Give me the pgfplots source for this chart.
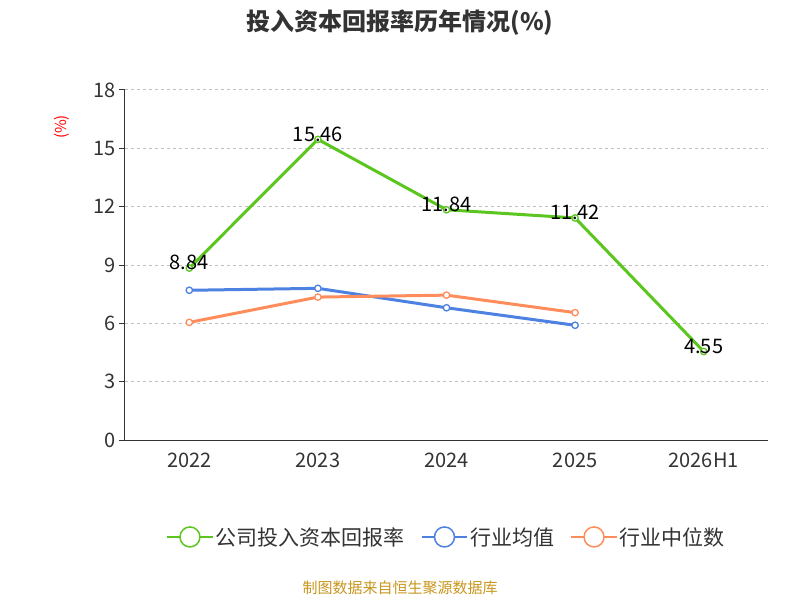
\documentclass[border=0pt]{standalone}
\usepackage{pgfplots}
\pgfplotsset{compat=1.18}
\usepackage{fontspec}
\setmainfont{Noto Sans CJK SC}
\definecolor{cg}{HTML}{5BC61E}
\definecolor{cb}{HTML}{4D82E2}
\definecolor{co}{HTML}{FF8D5C}
\definecolor{tx}{HTML}{333333}
\begin{document}
\begin{tikzpicture}[x=1pt,y=1pt]
\useasboundingbox (-125,-160) rectangle (675,440);
\begin{axis}[at={(0,0)},anchor=south west,scale only axis,width=643pt,height=350pt,
 xmin=-0.5,xmax=4.5,ymin=0,ymax=18,ytick={0,3,...,18},
 xtick={0,1,2,3,4},xticklabels={2022,2023,2024,2025,2026H1},
 extra x ticks={-0.5,0.5,1.5,2.5,3.5,4.5},extra x tick labels={},
 extra x tick style={major tick length=7pt,tick style={draw=tx,line width=1pt}},
 x tick style={draw=none},
 axis x line*=bottom, axis y line*=left,
 axis line style={draw=tx,-,line width=1pt},
 y tick style={draw=tx,line width=1pt},
 major tick length=6pt, tick align=outside,
 ymajorgrids, grid style={dashed,gray!50,line width=1pt},
 tick label style={font=\fontsize{20}{22}\selectfont,text=tx},
 xticklabel style={yshift=-3pt},
 /pgf/number format/assume math mode=true,
 legend style={at={(0.5,-0.277)},anchor=center,draw=none,legend columns=3,font=\fontsize{21}{22}\selectfont,text=tx,
  /tikz/every even column/.append style={column sep=14pt}},
 legend image code/.code={\draw[#1,line width=2pt] (0,0)--(1.6cm,0); \draw[#1,fill=white,line width=1.5pt] (0.8cm,0) circle (10pt);},
 every axis plot/.append style={line width=3pt,mark=*,mark options={fill=white,scale=1.6,line width=1.3pt}},
]
\addplot[cg,nodes near coords,point meta=explicit symbolic,every node near coord/.style={text=black,font=\fontsize{20}{22}\selectfont,yshift=-6pt}]
 coordinates {(0,8.84)[8.84] (1,15.46)[15.46] (2,11.84)[11.84] (3,11.42)[11.42] (4,4.55)[4.55]};
\addlegendentry{公司投入资本回报率}
\addplot[cb] coordinates {(0,7.7) (1,7.8) (2,6.8) (3,5.9)};
\addlegendentry{行业均值}
\addplot[co] coordinates {(0,6.05) (1,7.35) (2,7.45) (3,6.55)};
\addlegendentry{行业中位数}
\end{axis}
\node[rotate=90,font=\fontsize{15}{16}\selectfont,text=red] at (-63,313) {(\%)};
\node[font=\bfseries\fontsize{24}{26}\selectfont,text=tx] at (275,417) {投入资本回报率历年情况(\%)};
\node[font=\fontsize{15}{16}\selectfont,text={rgb,255:red,200;green,150;blue,30}] at (275,-148) {制图数据来自恒生聚源数据库};
\end{tikzpicture}
\end{document}
